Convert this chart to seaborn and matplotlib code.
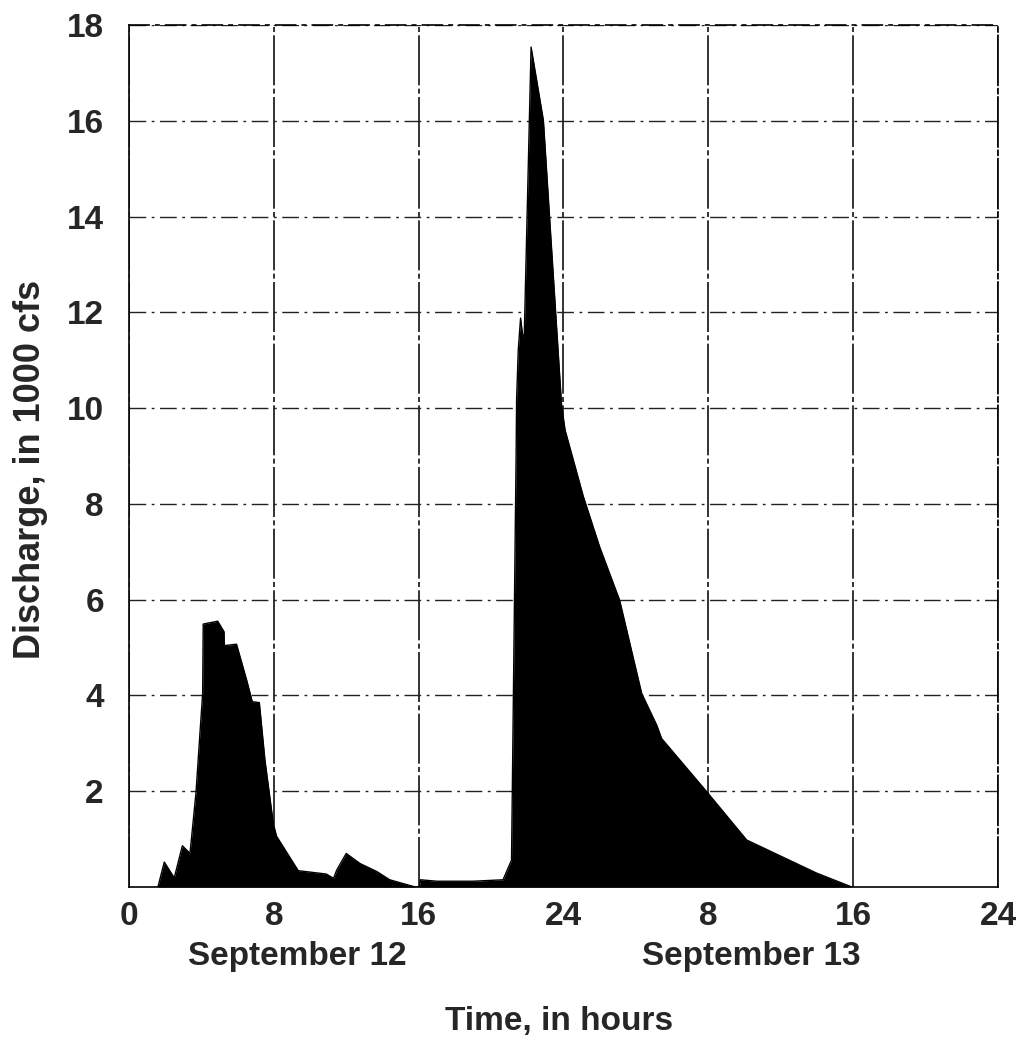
import matplotlib
matplotlib.use("Agg")
import matplotlib.pyplot as plt
import matplotlib.transforms as mtransforms
import seaborn as sns

# Data: hours since 0:00 September 12, discharge in 1000 cfs
hours = [1.6, 1.95, 2.5, 2.95, 3.37, 3.70, 3.92, 4.07, 4.1, 4.9, 5.25, 5.27, 5.94,
         6.5, 6.81, 7.2, 7.51, 7.97, 8.15, 9.35, 10.9, 11.3, 11.47, 12.0, 12.76,
         13.7, 14.4, 15.8, 16.05, 16.1, 17.0, 19.0, 20.66, 21.13, 21.38, 21.41,
         21.5, 21.63, 21.73, 21.83, 22.21, 22.89, 23.9, 23.99, 24.09, 25.1, 26.0,
         27.1, 28.32, 29.15, 29.42, 31.91, 34.12, 37.98, 39.92]
discharge = [0.0, 0.52, 0.19, 0.86, 0.70, 1.96, 3.21, 4.04, 5.49, 5.55, 5.33, 5.04,
             5.07, 4.32, 3.87, 3.85, 2.65, 1.33, 1.06, 0.34, 0.27, 0.18, 0.35, 0.70,
             0.49, 0.32, 0.15, 0.0, 0.0, 0.15, 0.12, 0.12, 0.15, 0.56, 8.9, 10.17,
             11.2, 11.88, 11.56, 11.45, 17.54, 16.01, 10.03, 9.8, 9.54, 8.15, 7.1,
             5.99, 4.04, 3.38, 3.1, 1.99, 0.98, 0.29, 0.0]

x_ticks = [0, 8, 16, 24, 32, 40, 48]
x_tick_labels = ["0", "8", "16", "24", "8", "16", "24"]
y_ticks = [2, 4, 6, 8, 10, 12, 14, 16, 18]
y_tick_labels = ["2", "4", "6", "8", "10", "12", "14", "16", "18"]
day_labels = ["September 12", "September 13"]
day_label_x = [9.3, 34.4]

sns.set_style("white")
plt.rcParams["font.family"] = ["Liberation Sans", "DejaVu Sans"]
plt.rcParams["font.weight"] = "bold"

fig = plt.figure(figsize=(10.22, 10.43), dpi=100)
ax = fig.add_axes([0.1262, 0.1496, 0.8503, 0.8264])

ax.fill_between(hours, discharge, 0, color="black", linewidth=0, zorder=2)
sns.lineplot(x=hours, y=discharge, sort=False, color="black", linewidth=1.0,
             ax=ax, zorder=3)

ax.set_xlim(0, 48)
ax.set_ylim(0, 18)
ax.set_xticks(x_ticks)
ax.set_xticklabels(x_tick_labels, fontsize=24, fontweight="bold")
ax.set_yticks(y_ticks)
ax.set_yticklabels(y_tick_labels, fontsize=24, fontweight="bold")
ax.tick_params(axis="x", length=0, pad=10)
ax.tick_params(axis="y", length=0, pad=18)

ax.set_axisbelow(True)
ax.grid(axis="y", color="#222222", linewidth=1.0, linestyle=(0, (12, 4, 2, 4)))
ax.grid(axis="x", color="#111111", linewidth=1.2, linestyle=(0, (30, 2, 3, 2)))

for side, sp in ax.spines.items():
    sp.set_color("black")
    sp.set_linewidth(1.2)
    sp.set_visible(True)
ax.spines["top"].set_linestyle((0, (12, 4, 2, 4)))
ax.spines["right"].set_linestyle((0, (30, 2, 3, 2)))

trans = mtransforms.blended_transform_factory(ax.transData, ax.transAxes)
for lbl, xpos in zip(day_labels, day_label_x):
    ax.text(xpos, -0.0905, lbl, transform=trans, ha="center", va="baseline",
            fontsize=24, fontweight="bold")

ax.set_xlabel("Time, in hours", fontsize=24, fontweight="bold")
ax.xaxis.label.set_va("baseline")
ax.xaxis.set_label_coords(0.495, -0.166)

ax.set_ylabel("Discharge, in 1000 cfs", fontsize=26, fontweight="bold")
ax.yaxis.label.set_va("center")
ax.yaxis.set_label_coords(-0.113, 0.484)

fig.savefig("out.png", dpi=100)
